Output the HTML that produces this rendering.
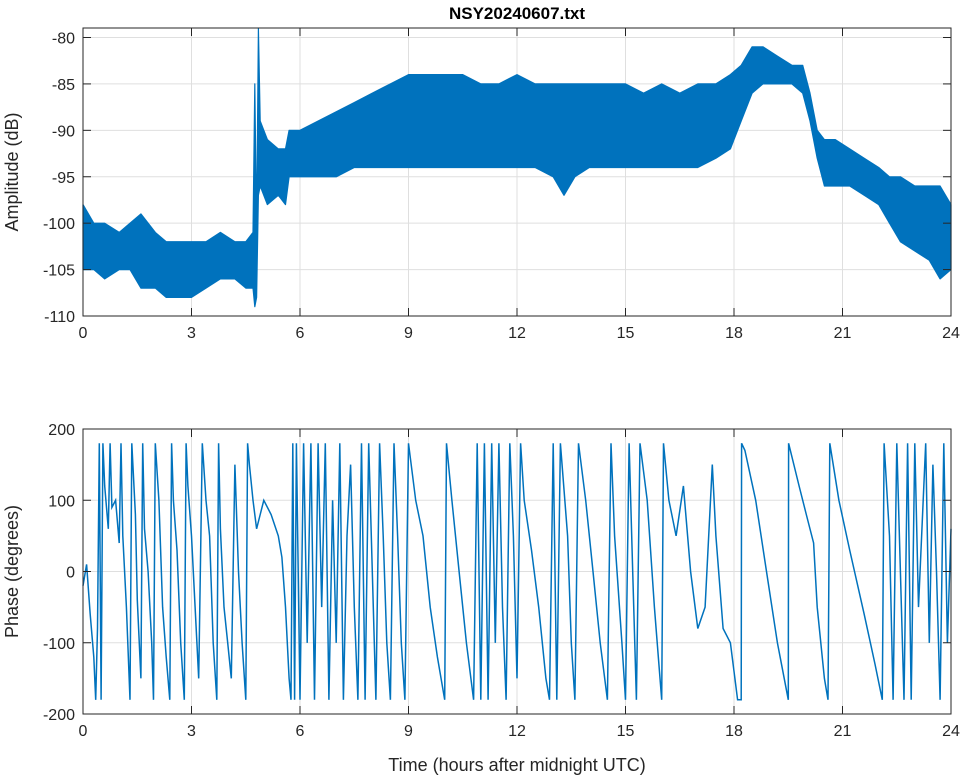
<!DOCTYPE html>
<html><head><meta charset="utf-8"><style>
body{margin:0;background:#fff;}
svg{display:block;font-family:"Liberation Sans",sans-serif;}
</style></head><body>
<svg id="chart" width="964" height="778"></svg>
<script>
// Amplitude envelope data (hours, low dB, high dB)
const ampTime=[0,0.3,0.6,1,1.3,1.6,2,2.3,2.6,3,3.4,3.8,4.2,4.5,4.7,4.75,4.8,4.85,4.9,5.1,5.4,5.6,5.7,6,6.5,7,7.5,8,8.5,9,9.5,10,10.5,11,11.5,12,12.5,13,13.3,13.6,14,14.5,15,15.5,16,16.5,17,17.5,17.9,18.2,18.5,18.8,19.2,19.6,19.9,20.1,20.3,20.5,20.8,21.2,21.6,22,22.3,22.6,23,23.4,23.7,24];
const ampLow=[-105,-105,-106,-105,-105,-107,-107,-108,-108,-108,-107,-106,-106,-107,-107,-109,-108,-97,-96,-98,-97,-98,-95,-95,-95,-95,-94,-94,-94,-94,-94,-94,-94,-94,-94,-94,-94,-95,-97,-95,-94,-94,-94,-94,-94,-94,-94,-93,-92,-89,-86,-85,-85,-85,-86,-89,-93,-96,-96,-96,-97,-98,-100,-102,-103,-104,-106,-105];
const ampHigh=[-98,-100,-100,-101,-100,-99,-101,-102,-102,-102,-102,-101,-102,-102,-101,-85,-101,-79,-89,-91,-92,-92,-90,-90,-89,-88,-87,-86,-85,-84,-84,-84,-84,-85,-85,-84,-85,-85,-85,-85,-85,-85,-85,-86,-85,-86,-85,-85,-84,-83,-81,-81,-82,-83,-83,-86,-90,-91,-91,-92,-93,-94,-95,-95,-96,-96,-96,-98];
// Phase series (hours, degrees)
const phaseTime=[0,0.1,0.2,0.3,0.35,0.4,0.45,0.5,0.55,0.6,0.7,0.75,0.8,0.9,1.0,1.05,1.1,1.2,1.3,1.35,1.45,1.5,1.6,1.65,1.7,1.8,1.9,1.95,2.0,2.1,2.2,2.3,2.4,2.45,2.5,2.6,2.7,2.8,2.85,2.9,3.0,3.1,3.2,3.3,3.4,3.5,3.6,3.7,3.75,3.8,3.9,4.0,4.1,4.2,4.3,4.4,4.5,4.55,4.6,4.7,4.8,4.9,5.0,5.2,5.4,5.5,5.6,5.7,5.75,5.8,5.85,5.9,6.0,6.1,6.2,6.3,6.4,6.5,6.6,6.7,6.8,6.9,7.0,7.1,7.2,7.3,7.4,7.5,7.6,7.7,7.8,7.9,8.0,8.1,8.2,8.3,8.4,8.5,8.6,8.7,8.8,8.9,9.0,9.2,9.4,9.6,9.8,10.0,10.05,10.2,10.4,10.6,10.8,10.9,11.0,11.1,11.2,11.3,11.4,11.5,11.6,11.7,11.8,11.9,12.0,12.1,12.2,12.4,12.6,12.8,12.9,13.0,13.1,13.2,13.4,13.5,13.6,13.7,13.9,14.1,14.3,14.5,14.6,14.7,14.9,15.0,15.1,15.2,15.3,15.4,15.6,15.8,16.0,16.05,16.2,16.4,16.6,16.8,17.0,17.2,17.4,17.5,17.7,17.9,18.0,18.1,18.2,18.21,18.3,18.6,18.9,19.2,19.5,19.51,19.8,20.0,20.2,20.3,20.5,20.6,20.65,20.9,21.2,21.6,21.9,22.1,22.15,22.3,22.4,22.5,22.6,22.7,22.8,22.9,23.0,23.1,23.3,23.4,23.5,23.6,23.7,23.8,23.9,24.0];
const phaseVal=[-20,10,-60,-120,-180,-80,180,-180,180,120,60,180,90,100,40,180,50,-50,-180,180,80,-40,-150,180,60,0,-100,-180,180,100,-50,-120,-180,180,100,30,-100,-180,180,120,50,-50,-150,180,100,50,-100,-180,180,60,-50,-100,-150,150,0,-100,-180,180,150,100,60,80,100,80,50,20,-50,-150,-180,180,-180,180,-180,180,-100,180,-180,180,-50,180,-180,100,-100,180,-180,50,150,-50,-180,180,-180,180,0,-180,180,50,-100,-180,180,50,-100,-180,180,100,50,-50,-120,-180,180,100,0,-100,-180,180,-180,180,-180,180,-100,180,-50,-180,180,50,-150,180,100,30,-50,-150,-180,180,-180,180,50,-100,-180,180,100,0,-100,-180,180,50,-100,-180,180,0,-180,180,100,-50,-180,180,100,50,120,0,-80,-50,150,50,-80,-100,-140,-180,-180,180,170,100,0,-100,-180,180,120,80,40,-50,-150,-180,180,100,30,-60,-130,-180,180,50,-180,180,0,-180,180,-180,180,-50,180,-100,150,0,-180,180,-100,60];
const xTicks=[0,3,6,9,12,15,18,21,24];
const ampTicks=[-80,-85,-90,-95,-100,-105,-110];
const phaseTicks=[200,100,0,-100,-200];

const NS='http://www.w3.org/2000/svg';
const svg=document.getElementById('chart');
const L=83,R=951;
const xs=t=>L+(R-L)*t/24;
const yA=v=>37.5+(-80-v)*(316-37.5)/30;
const yP=v=>714-(v+200)*(714-429)/400;
function mk(tag,attrs,parent){const e=document.createElementNS(NS,tag);for(const k in attrs)e.setAttribute(k,attrs[k]);(parent||svg).appendChild(e);return e;}
function txt(s,x,y,attrs){const e=mk('text',Object.assign({x:x,y:y,'font-size':16,fill:'#262626'},attrs));e.textContent=s;return e;}

function axes(top,bot,yTicks,yf,name,ylabel,series){
  const g=mk('g',{});
  
  
  mk('rect',{x:L,y:top,width:R-L,height:bot-top,fill:'#fff'},g);
  xTicks.forEach(t=>{const l=mk('line',{x1:xs(t),x2:xs(t),y1:top,y2:bot,stroke:'#dfdfdf','stroke-width':1},g);
    });
  yTicks.forEach(v=>{const l=mk('line',{x1:L,x2:R,y1:yf(v),y2:yf(v),stroke:'#dfdfdf','stroke-width':1},g);
    });
  series(g);
  mk('rect',{x:L,y:top,width:R-L,height:bot-top,fill:'none',stroke:'#262626','stroke-width':1},g);
  xTicks.forEach(t=>{mk('line',{x1:xs(t),x2:xs(t),y1:bot,y2:bot-8,stroke:'#262626'},g);mk('line',{x1:xs(t),x2:xs(t),y1:top,y2:top+8,stroke:'#262626'},g);
    const e=txt(String(t),xs(t),bot+22,{'text-anchor':'middle'});});
  yTicks.forEach(v=>{mk('line',{x1:L,x2:L+8,y1:yf(v),y2:yf(v),stroke:'#262626'},g);mk('line',{x1:R,x2:R-8,y1:yf(v),y2:yf(v),stroke:'#262626'},g);
    const e=txt(String(v),L-8,yf(v)+6,{'text-anchor':'end'});});
  const cy=(top+bot)/2;
  const yl=txt(ylabel,18,cy,{'text-anchor':'middle',transform:'rotate(-90 18 '+cy+')','font-size':18});
  
}
axes(28,316,ampTicks,yA,'amplitude-plot','Amplitude (dB)',g=>{
  let d='';ampTime.forEach((t,i)=>{d+=(i?'L':'M')+xs(t).toFixed(1)+','+yA(ampHigh[i]).toFixed(1);});
  for(let i=ampTime.length-1;i>=0;i--)d+='L'+xs(ampTime[i]).toFixed(1)+','+yA(ampLow[i]).toFixed(1);
  const p=mk('path',{d:d+'Z',fill:'#0072BD',stroke:'#0072BD','stroke-width':1.2,'stroke-linejoin':'round'},g);
  
});
axes(429,714,phaseTicks,yP,'phase-plot','Phase (degrees)',g=>{
  const pts=phaseTime.map((t,i)=>xs(t).toFixed(1)+','+yP(phaseVal[i]).toFixed(1)).join(' ');
  const p=mk('polyline',{points:pts,fill:'none',stroke:'#0072BD','stroke-width':1.5},g);
  
});
const t=txt('NSY20240607.txt',517,19,{'text-anchor':'middle','font-weight':'bold','font-size':17,fill:'#000'});

const xl=txt('Time (hours after midnight UTC)',517,771,{'text-anchor':'middle','font-size':18});

</script>
</body></html>
